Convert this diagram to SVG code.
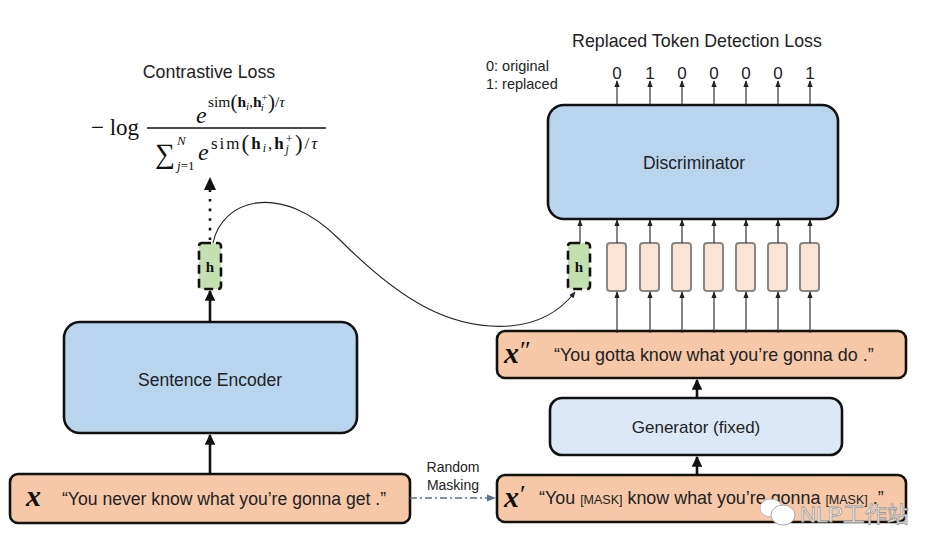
<svg xmlns="http://www.w3.org/2000/svg" width="946" height="556" viewBox="0 0 946 556">
<style>
.lbl{font-family:"Liberation Sans",Arial,sans-serif;fill:#222}
.math{font-family:"Liberation Serif","DejaVu Serif",serif;fill:#111}
.box{stroke:#111;stroke-width:2.6}
.peach{fill:#f6c8a8}
.blue{fill:#b9d5ee}
.lblue{fill:#dce8f5}
.tok{fill:#fde3d4;stroke:#888;stroke-width:2}
.hbox{fill:#c4dfb0;stroke:#111;stroke-width:2.6;stroke-dasharray:9 5}
.thick{stroke:#111;stroke-width:2.6;fill:none}
.thin{stroke:#222;stroke-width:1.1;fill:none}
</style>
<defs>
<marker id="ah" viewBox="0 0 10 10" refX="9" refY="5" markerWidth="4.2" markerHeight="4.2" orient="auto"><path d="M0,0 L10,5 L0,10 z" fill="#111"/></marker>
<marker id="as" viewBox="0 0 10 10" refX="9" refY="5" markerWidth="6" markerHeight="6" orient="auto"><path d="M0,1 L10,5 L0,9 z" fill="#222"/></marker>
<marker id="ad" viewBox="0 0 10 10" refX="9" refY="5" markerWidth="7" markerHeight="7" orient="auto"><path d="M0,1 L10,5 L0,9 z" fill="#5a6f8a"/></marker>
</defs>
<rect width="946" height="556" fill="#fff"/>

<g id="contrastive-loss">
<text class="lbl" x="209" y="78" font-size="17.8" text-anchor="middle">Contrastive Loss</text>
<text class="math" x="91" y="135" font-size="23">− log</text>
<text class="math" x="196" y="123" font-size="24" font-style="italic">e</text>
<text class="math" x="208" y="107" font-size="15.5">sim<tspan font-size="21" dy="2">(</tspan><tspan font-weight="bold" dy="-2">h</tspan><tspan font-style="italic" font-size="11" dy="3">i</tspan><tspan dy="-3">,</tspan><tspan font-weight="bold">h</tspan><tspan font-size="11" dy="-6">+</tspan><tspan font-style="italic" font-size="11" dx="-7" dy="10">i</tspan><tspan font-size="21" dx="4" dy="-2">)</tspan><tspan dy="-2">/</tspan><tspan font-style="italic">τ</tspan></text>
<line x1="147" y1="128" x2="326" y2="128" stroke="#111" stroke-width="1.3"/>
<text class="math" x="155" y="163" font-size="28">∑</text>
<text class="math" x="177" y="145" font-size="13" font-style="italic">N</text>
<text class="math" x="177" y="170" font-size="13"><tspan font-style="italic">j</tspan>=1</text>
<text class="math" x="198" y="160" font-size="24" font-style="italic">e</text>
<text class="math" x="211" y="149" font-size="17" letter-spacing="2">sim<tspan font-size="23" dy="2">(</tspan><tspan font-weight="bold" dy="-2">h</tspan><tspan font-style="italic" font-size="12" dy="3">i</tspan><tspan dy="-3">,</tspan><tspan font-weight="bold">h</tspan><tspan font-size="12" dy="-6">+</tspan><tspan font-style="italic" font-size="12" dx="-9" dy="10">j</tspan><tspan font-size="23" dx="4" dy="-2">)</tspan><tspan dy="-2">/</tspan><tspan font-style="italic">τ</tspan></text>
</g>

<g id="rtd-loss">
<text class="lbl" x="697" y="47" font-size="17.8" text-anchor="middle">Replaced Token Detection Loss</text>
<text class="lbl" x="486" y="71" font-size="14.5">0: original</text>
<text class="lbl" x="486" y="89" font-size="14.5">1: replaced</text>
<g class="lbl" font-size="17" text-anchor="middle">
<text x="617" y="79">0</text><text x="650" y="79">1</text><text x="682" y="79">0</text><text x="714" y="79">0</text><text x="746" y="79">0</text><text x="778" y="79">0</text><text x="810" y="79">1</text>
</g>
</g>

<g id="discriminator">
<rect class="box blue" x="548" y="105" width="290" height="114" rx="16"/>
<text class="lbl" x="694" y="169" font-size="17.5" text-anchor="middle">Discriminator</text>
</g>

<g id="h-left">
<rect class="hbox" x="199" y="243" width="22" height="46" rx="3"/>
<text class="math" x="210" y="272" font-size="15" font-weight="bold" text-anchor="middle">h</text>
</g>
<g id="h-right">
<rect class="hbox" x="568" y="243" width="22" height="46" rx="3"/>
<text class="math" x="579" y="272" font-size="15" font-weight="bold" text-anchor="middle">h</text>
</g>

<g id="tokens">
<rect class="tok" x="607" y="243" width="19" height="48" rx="3"/>
<rect class="tok" x="640" y="243" width="19" height="48" rx="3"/>
<rect class="tok" x="672" y="243" width="19" height="48" rx="3"/>
<rect class="tok" x="704" y="243" width="19" height="48" rx="3"/>
<rect class="tok" x="736" y="243" width="19" height="48" rx="3"/>
<rect class="tok" x="768" y="243" width="19" height="48" rx="3"/>
<rect class="tok" x="800" y="243" width="19" height="48" rx="3"/>
</g>

<g id="sentence-encoder">
<rect class="box blue" x="64" y="322" width="293" height="111" rx="16"/>
<text class="lbl" x="210" y="386" font-size="17.5" text-anchor="middle">Sentence Encoder</text>
</g>

<g id="x-input">
<rect class="box peach" x="10" y="474" width="400" height="49" rx="8"/>
<text class="math" x="26" y="506" font-size="30" font-style="italic" font-weight="bold">x</text>
<text class="lbl" x="62" y="505" font-size="17.6">“You never know what you’re gonna get .”</text>
</g>

<g id="x-double-prime">
<rect class="box peach" x="497" y="331" width="409" height="47" rx="8"/>
<text class="math" x="504" y="363" font-size="30" font-style="italic" font-weight="bold">x<tspan font-style="normal" font-weight="normal" font-size="26" dx="1" dy="-4">″</tspan></text>
<text class="lbl" x="554" y="361" font-size="17.9">“You gotta know what you’re gonna do .”</text>
</g>

<g id="generator">
<rect class="box lblue" x="550" y="398" width="292" height="57" rx="12"/>
<text class="lbl" x="696" y="433" font-size="17" text-anchor="middle">Generator (fixed)</text>
</g>

<g id="x-prime">
<rect class="box peach" x="497" y="475" width="409" height="47" rx="8"/>
<text class="math" x="504" y="507" font-size="30" font-style="italic" font-weight="bold">x<tspan font-style="normal" font-weight="normal" font-size="26" dx="1" dy="-4">′</tspan></text>
<text class="lbl" x="539" y="504" font-size="17.9">“You <tspan font-size="12.5">[MASK]</tspan> know what you’re gonna <tspan font-size="12.5">[MASK]</tspan> .”</text>
</g>

<g id="masking-label">
<text class="lbl" x="453" y="472" font-size="14" text-anchor="middle">Random</text>
<text class="lbl" x="453" y="490" font-size="14" text-anchor="middle">Masking</text>
</g>

<g id="connectors">
<line class="thick" x1="210" y1="474" x2="210" y2="435" marker-end="url(#ah)"/>
<line class="thick" x1="210" y1="322" x2="210" y2="291" marker-end="url(#ah)"/>
<line stroke="#111" stroke-width="2.6" stroke-dasharray="2.6 7" x1="210" y1="240" x2="210" y2="184"/>
<path d="M204,190 L210,177 L216,190 z" fill="#111"/>
<path class="thin" stroke-width="1.5" d="M213,243 C222,200 280,180 340,240 C400,300 450,330 510,326 C545,323 565,305 575,292" marker-end="url(#as)"/>
<line x1="410" y1="498" x2="495" y2="498" stroke="#5a6f8a" stroke-width="1.3" stroke-dasharray="7 3 2 3" marker-end="url(#ad)"/>
<line class="thick" x1="697" y1="475" x2="697" y2="457" marker-end="url(#ah)"/>
<line class="thick" x1="697" y1="398" x2="697" y2="380" marker-end="url(#ah)"/>
<g class="thin" marker-end="url(#as)">
<line x1="580" y1="243" x2="580" y2="220"/>
<line x1="617" y1="333" x2="617" y2="292"/>
<line x1="650" y1="333" x2="650" y2="292"/>
<line x1="682" y1="333" x2="682" y2="292"/>
<line x1="714" y1="333" x2="714" y2="292"/>
<line x1="746" y1="333" x2="746" y2="292"/>
<line x1="778" y1="333" x2="778" y2="292"/>
<line x1="810" y1="333" x2="810" y2="292"/>
<line x1="617" y1="243" x2="617" y2="220"/>
<line x1="650" y1="243" x2="650" y2="220"/>
<line x1="682" y1="243" x2="682" y2="220"/>
<line x1="714" y1="243" x2="714" y2="220"/>
<line x1="746" y1="243" x2="746" y2="220"/>
<line x1="778" y1="243" x2="778" y2="220"/>
<line x1="810" y1="243" x2="810" y2="220"/>
<line x1="617" y1="105" x2="617" y2="81"/>
<line x1="650" y1="105" x2="650" y2="81"/>
<line x1="682" y1="105" x2="682" y2="81"/>
<line x1="714" y1="105" x2="714" y2="81"/>
<line x1="746" y1="105" x2="746" y2="81"/>
<line x1="778" y1="105" x2="778" y2="81"/>
<line x1="810" y1="105" x2="810" y2="81"/>
</g>
</g>

<g id="watermark">
<ellipse cx="771" cy="508" rx="11" ry="9" fill="#fff" stroke="#bbb" stroke-width="1"/>
<ellipse cx="783" cy="515" rx="12" ry="10" fill="#fff" stroke="#aaa" stroke-width="1"/>
<text x="800" y="522" font-family="'Liberation Sans','Noto Sans CJK SC',sans-serif" font-size="22" fill="#fff" stroke="#999" stroke-width="0.8">NLP工作站</text>
</g>
</svg>
